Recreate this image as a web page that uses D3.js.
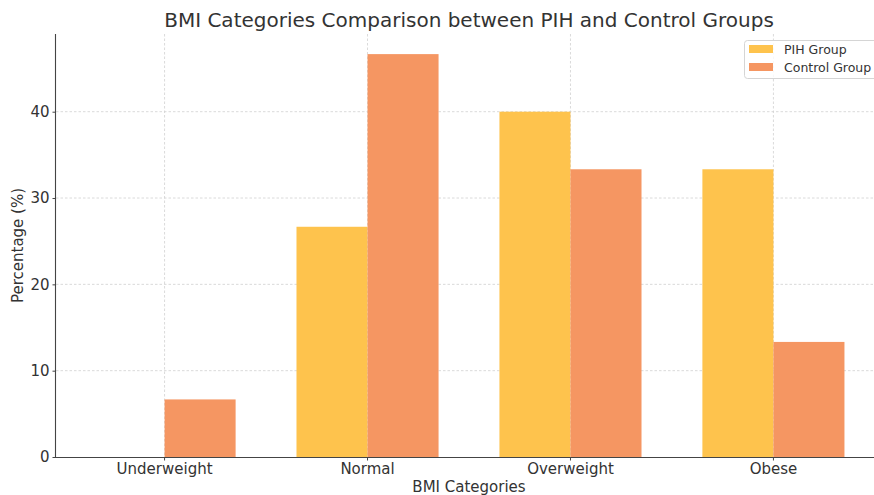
<!DOCTYPE html>
<html>
<head>
<meta charset="utf-8">
<script src="https://cdn.jsdelivr.net/npm/d3@7"></script>
<style>
  body { margin: 0; background: #fff; }
  text { font-family: "DejaVu Sans", sans-serif; fill: #333; }
</style>
</head>
<body>
<div id="container"></div>
<script>
const categories = ["Underweight", "Normal", "Overweight", "Obese"];
const groups = ["PIH Group", "Control Group"];
const pihValues = [0, 26.67, 40, 33.33];
const controlValues = [6.67, 46.67, 33.33, 13.33];
const yTicks = [0, 10, 20, 30, 40];

const colors = { "PIH Group": "#FEC34D", "Control Group": "#F59662" };

const width = 874;
const height = 495;
const margin = { top: 34, right: -8, bottom: 38, left: 56 };

const rows = categories.map((c, i) => ({
  category: c,
  "PIH Group": pihValues[i],
  "Control Group": controlValues[i]
}));

const svg = d3.create("svg")
  .attr("width", width)
  .attr("height", height);

const x = d3.scaleBand()
  .domain(categories)
  .range([margin.left, width - margin.right])
  .paddingInner(0.3)
  .paddingOuter(0.185);

const xInner = d3.scaleBand()
  .domain(groups)
  .range([0, x.bandwidth()]);

const y = d3.scaleLinear()
  .domain([0, 49])
  .range([height - margin.bottom, margin.top]);

// grid
svg.append("g")
  .selectAll("line")
  .data(yTicks.filter(d => d > 0))
  .join("line")
  .attr("x1", margin.left)
  .attr("x2", width)
  .attr("y1", d => y(d))
  .attr("y2", d => y(d))
  .attr("stroke", "#d0d0d0")
  .attr("stroke-width", 0.8)
  .attr("stroke-dasharray", "2.5,2");

svg.append("g")
  .selectAll("line")
  .data(categories)
  .join("line")
  .attr("x1", d => x(d) + x.bandwidth() / 2)
  .attr("x2", d => x(d) + x.bandwidth() / 2)
  .attr("y1", margin.top)
  .attr("y2", height - margin.bottom)
  .attr("stroke", "#d0d0d0")
  .attr("stroke-width", 0.8)
  .attr("stroke-dasharray", "2.5,2");

// bars
svg.append("g")
  .selectAll("g")
  .data(rows)
  .join("g")
  .attr("transform", d => `translate(${x(d.category)},0)`)
  .selectAll("rect")
  .data(d => groups.map(g => ({ group: g, value: d[g] })))
  .join("rect")
  .attr("x", d => xInner(d.group))
  .attr("width", xInner.bandwidth())
  .attr("y", d => y(d.value))
  .attr("height", d => y(0) - y(d.value))
  .attr("fill", d => colors[d.group]);

// axes
const xAxis = svg.append("g")
  .attr("transform", `translate(0,${height - margin.bottom})`)
  .call(d3.axisBottom(x).tickSizeOuter(0).tickSize(3.5).tickPadding(3));
xAxis.select(".domain").attr("stroke", "#444").attr("stroke-width", 1.1)
  .attr("d", `M${margin.left},0.5H${width}`);

const yAxis = svg.append("g")
  .attr("transform", `translate(${margin.left},0)`)
  .call(d3.axisLeft(y).tickValues(yTicks).tickSizeOuter(0).tickSize(3.5).tickPadding(3));
yAxis.select(".domain").attr("stroke", "#444").attr("stroke-width", 1.1)
  .attr("d", `M-0.5,${margin.top}V${height - margin.bottom}`);

svg.selectAll(".tick line").attr("stroke", "#444");
svg.selectAll(".tick text").attr("font-size", 15).attr("fill", "#333")
  .attr("font-family", "DejaVu Sans");

// labels
svg.append("text")
  .attr("x", (margin.left + width - margin.right) / 2)
  .attr("y", 27)
  .attr("text-anchor", "middle")
  .attr("font-size", 20)
  .text("BMI Categories Comparison between PIH and Control Groups");

svg.append("text")
  .attr("x", (margin.left + width - margin.right) / 2)
  .attr("y", 492)
  .attr("text-anchor", "middle")
  .attr("font-size", 15)
  .text("BMI Categories");

svg.append("text")
  .attr("transform", `translate(23,${(margin.top + height - margin.bottom) / 2}) rotate(-90)`)
  .attr("text-anchor", "middle")
  .attr("font-size", 15)
  .text("Percentage (%)");

// legend
const legend = svg.append("g").attr("transform", "translate(744,40)");
legend.append("rect")
  .attr("x", 0.5).attr("y", 0.5)
  .attr("width", 140).attr("height", 38)
  .attr("rx", 3)
  .attr("fill", "#fff").attr("fill-opacity", 0.8)
  .attr("stroke", "#d5d5d5");
legend.selectAll("g.item")
  .data(groups)
  .join("g")
  .attr("class", "item")
  .attr("transform", (d, i) => `translate(5,${5 + i * 18})`)
  .call(g => g.append("rect")
    .attr("width", 24).attr("height", 8)
    .attr("fill", d => colors[d]))
  .call(g => g.append("text")
    .attr("x", 35).attr("y", 8.5)
    .attr("font-size", 12.5)
    .text(d => d));

document.getElementById("container").append(svg.node());
</script>
</body>
</html>
